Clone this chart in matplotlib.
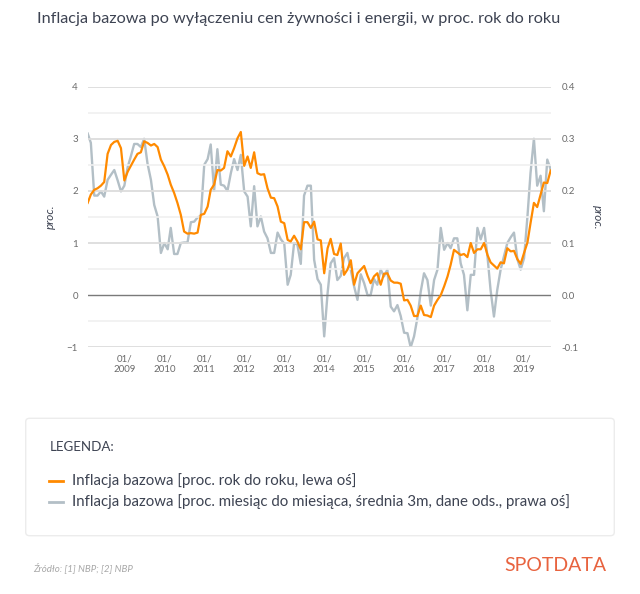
import pandas as pd
import matplotlib
matplotlib.use("Agg")
import matplotlib.pyplot as plt
from matplotlib.patches import FancyBboxPatch

# monthly data, Feb 2008 - Sep 2019
months = pd.date_range("2008-02-01", periods=140, freq="MS")

# core inflation, y/y (left axis)
core_yoy = [
    1.77, 1.93, 2.02, 2.05, 2.10, 2.17, 2.71, 2.88, 2.94, 2.96, 2.82, 2.20,
    2.37, 2.48, 2.60, 2.71, 2.74, 2.95, 2.92, 2.87, 2.90, 2.84, 2.60, 2.47,
    2.31, 2.12, 1.96, 1.77, 1.54, 1.22, 1.18, 1.19, 1.18, 1.20, 1.54, 1.56,
    1.70, 2.02, 2.12, 2.40, 2.39, 2.44, 2.76, 2.66, 2.82, 3.01, 3.13, 2.48,
    2.66, 2.44, 2.74, 2.34, 2.31, 2.32, 2.05, 1.87, 1.86, 1.70, 1.41, 1.38,
    1.06, 1.03, 1.14, 1.03, 0.88, 1.40, 1.40, 1.29, 1.41, 1.07, 1.05, 0.42,
    0.90, 1.08, 0.79, 0.77, 0.99, 0.39, 0.49, 0.67, 0.20, 0.42, 0.49, 0.56,
    0.37, 0.23, 0.36, 0.42, 0.20, 0.41, 0.42, 0.28, 0.24, 0.24, 0.22, -0.10,
    -0.09, -0.20, -0.40, -0.40, -0.20, -0.38, -0.39, -0.42, -0.20, -0.09, 0.00, 0.17,
    0.36, 0.58, 0.87, 0.82, 0.77, 0.79, 0.73, 1.00, 0.81, 0.88, 0.88, 1.00,
    0.77, 0.63, 0.57, 0.51, 0.63, 0.61, 0.90, 0.84, 0.85, 0.69, 0.60, 0.81,
    1.01, 1.38, 1.77, 1.69, 1.93, 2.16, 2.15, 2.39,
]

# core inflation, m/m, 3m average, seasonally adjusted (right axis)
core_mom = [
    0.310, 0.292, 0.191, 0.191, 0.199, 0.189, 0.221, 0.231, 0.240, 0.220, 0.199, 0.210,
    0.246, 0.266, 0.290, 0.290, 0.284, 0.300, 0.252, 0.221, 0.173, 0.151, 0.081, 0.100,
    0.088, 0.129, 0.079, 0.079, 0.100, 0.101, 0.101, 0.140, 0.141, 0.149, 0.152, 0.250,
    0.261, 0.289, 0.200, 0.280, 0.212, 0.210, 0.200, 0.234, 0.261, 0.240, 0.269, 0.199,
    0.189, 0.132, 0.209, 0.132, 0.151, 0.122, 0.109, 0.081, 0.081, 0.120, 0.107, 0.099,
    0.020, 0.039, 0.100, 0.097, 0.060, 0.191, 0.210, 0.210, 0.068, 0.031, 0.020, -0.079,
    0.004, 0.061, 0.071, 0.029, 0.037, 0.071, 0.081, 0.049, 0.017, -0.009, 0.040, 0.023,
    0.000, 0.000, 0.031, 0.020, 0.049, 0.036, 0.049, -0.022, -0.031, -0.019, -0.040, -0.072,
    -0.073, -0.100, -0.079, -0.044, 0.007, 0.042, 0.029, -0.020, 0.029, 0.049, 0.129, 0.087,
    0.100, 0.090, 0.109, 0.109, 0.061, 0.039, -0.029, 0.039, 0.039, 0.129, 0.107, 0.129,
    0.074, 0.010, -0.041, 0.010, 0.049, 0.074, 0.100, 0.111, 0.120, 0.069, 0.049, 0.071,
    0.151, 0.234, 0.300, 0.210, 0.229, 0.161, 0.260, 0.241,
]

years = list(range(2009, 2020))
legend_labels = [
    "Inflacja bazowa [proc. rok do roku, lewa oś]",
    "Inflacja bazowa [proc. miesiąc do miesiąca, średnia 3m, dane ods., prawa oś]",
]

ORANGE = "#ff8a00"
GREY = "#b3bfc6"
TEXT = "#3d4352"
TICK = "#6b6b6b"

plt.rcParams["font.family"] = ["Lato", "DejaVu Sans"]

fig = plt.figure(figsize=(6.4, 5.94), dpi=100)
fig.patch.set_facecolor("white")

ax = fig.add_axes([0.137, 0.4153, 0.7234, 0.4389])
ax2 = ax.twinx()

# grid: integers darker, halves lighter
for v in [-0.5, 0.5, 1.5, 2.5, 3.5]:
    ax.axhline(v, color="#f0f0f0", lw=1.2, zorder=0)
for v in [-1, 1, 2, 3, 4]:
    ax.axhline(v, color="#dcdcdc", lw=1.3, zorder=0)
ax.axhline(0, color="#7a7a7a", lw=1.0, zorder=1)

ax2.plot(months, core_mom, color=GREY, lw=1.7, zorder=2)
ax.plot(months, core_yoy, color=ORANGE, lw=1.6, zorder=3)
ax.set_zorder(ax2.get_zorder() + 1)
ax.patch.set_visible(False)

ax.set_ylim(-1, 4)
ax2.set_ylim(-0.1, 0.4)
ax.set_xlim(months[0], months[-1])
ax.set_yticks([-1, 0, 1, 2, 3, 4])
ax2.set_yticks([-0.1, 0.0, 0.1, 0.2, 0.3, 0.4])
ax2.set_yticklabels(["-0.1", "0.0", "0.1", "0.2", "0.3", "0.4"])

xt = [pd.Timestamp(f"{y}-01-01") for y in years]
ax.set_xticks(xt)
ax.set_xticklabels([f"01/\n{y}" for y in years])

for a in (ax, ax2):
    for s in a.spines.values():
        s.set_visible(False)
    a.tick_params(length=0, labelsize=7, colors=TICK)
ax.tick_params(axis="y", pad=7)
ax2.tick_params(axis="y", pad=8)
ax.tick_params(axis="x", pad=5)

ax.set_ylabel("proc.", fontsize=8.5, style="italic", color=TEXT, labelpad=8)
ax2.set_ylabel("proc.", fontsize=8.5, style="italic", color=TEXT, rotation=270,
               labelpad=17)

fig.text(37 / 640, 1 - 18.5 / 594,
         "Inflacja bazowa po wyłączeniu cen żywności i energii, w proc. rok do roku",
         fontsize=11.7, color=TEXT, va="center", ha="left")

# legend box
box = FancyBboxPatch((25.7 / 640, 1 - 535.7 / 594), (614.3 - 25.7) / 640,
                     (535.7 - 418.3) / 594, boxstyle="round,pad=0,rounding_size=0.006",
                     transform=fig.transFigure, facecolor="white",
                     edgecolor="#ececec", lw=1.0)
fig.patches.append(box)
fig.text(50 / 640, 1 - 446.7 / 594, "LEGENDA:", fontsize=9.6, color=TEXT,
         va="center", ha="left")
for lbl, col, yy in zip(legend_labels, [ORANGE, GREY], [481, 501.7]):
    fig.lines.append(plt.Line2D([49.3 / 640, 62.7 / 640], [1 - yy / 594] * 2,
                                color=col, lw=2, transform=fig.transFigure))
    fig.text(72 / 640, 1 - yy / 594, lbl, fontsize=10.8, color=TEXT,
             va="center", ha="left")

fig.text(33 / 640, 1 - 568 / 594, "Źródło: [1] NBP; [2] NBP", fontsize=7,
         style="italic", color="#a8a8a8", va="center", ha="left")
fig.text(606.7 / 640, 1 - 565.7 / 594, "SPOTDATA", fontsize=14, color="#e8633f",
         va="center", ha="right")

fig.savefig("out.png", dpi=100, facecolor="white")
